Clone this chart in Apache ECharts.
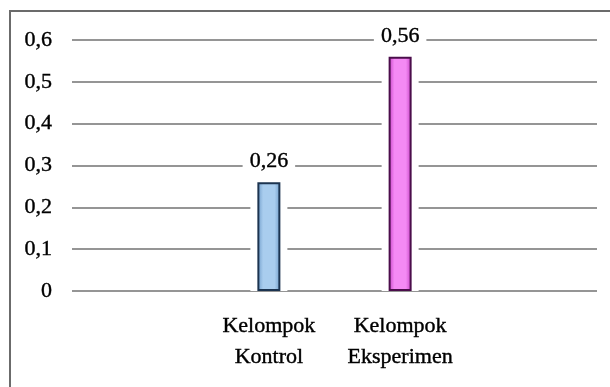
<!DOCTYPE html>
<html>
<head>
<meta charset="utf-8">
<script src="https://cdn.jsdelivr.net/npm/echarts@6/dist/echarts.min.js"></script>
<style>
  html, body { margin: 0; padding: 0; background: #fff; }
  #chart { width: 610px; height: 387px; }
</style>
</head>
<body>
<div id="chart"></div>
<script>
// Categories (outer slots left empty so the two groups sit in the middle)
const categories = ['', 'Kelompok\nKontrol', 'Kelompok\nEksperimen', ''];
const values = [null, 0.26, 0.56, null];
const yTicks = { min: 0, max: 0.6, step: 0.1 };

const serif = 'Liberation Serif';
// slightly heavier strokes for all chart text
const ink = { color: '#000', textBorderColor: '#000', textBorderWidth: 0.4 };

const barStyles = [
  null,
  { fill: ['#6f9cc9', '#a9cdee', '#a9cdee', '#6f9cc9'], border: '#1c3450' },
  { fill: ['#c43fc4', '#f48af4', '#f48af4', '#c43fc4'], border: '#4b0d4b' },
  null
];

function grad(c) {
  return new echarts.graphic.LinearGradient(0, 0, 1, 0, [
    { offset: 0, color: c[0] },
    { offset: 0.25, color: c[1] },
    { offset: 0.75, color: c[2] },
    { offset: 1, color: c[3] }
  ]);
}

const fmt = v => (v === 0 ? '0' : v.toFixed(2).replace(/0$/, '').replace('.', ','));

const chart = echarts.init(document.getElementById('chart'), null, { renderer: 'canvas' });
chart.setOption({
  animation: false,
  backgroundColor: '#fff',
  grid: { left: 72, right: 13, top: 40, bottom: 96 },
  graphic: [{
    type: 'rect',
    shape: { x: 10, y: 11, width: 700, height: 500 },
    style: { fill: 'none', stroke: '#6b6b6b', lineWidth: 2 },
    silent: true
  }],
  xAxis: [{
    type: 'category',
    data: categories,
    axisLine: { show: false },
    axisTick: { show: false },
    axisLabel: Object.assign({
      interval: 0,
      margin: 20,
      fontFamily: serif,
      fontSize: 22,
      lineHeight: 31
    }, ink)
  }, {
    type: 'category',
    data: categories,
    show: false
  }],
  yAxis: {
    type: 'value',
    min: yTicks.min,
    max: yTicks.max,
    interval: yTicks.step,
    axisLine: { show: false },
    axisTick: { show: false },
    axisLabel: Object.assign({
      margin: 20,
      fontFamily: serif,
      fontSize: 22,
      formatter: v => (v === 0 ? '0' : v.toFixed(1).replace('.', ','))
    }, ink),
    splitLine: { lineStyle: { color: '#959595', width: 2 } }
  },
  series: [{
    // white halo that breaks the gridlines around each bar
    type: 'bar',
    xAxisIndex: 1,
    data: values,
    barWidth: 37,
    silent: true,
    z: 2,
    itemStyle: { color: '#fff' }
  }, {
    type: 'bar',
    xAxisIndex: 0,
    data: values.map((v, i) => v == null ? null : {
      value: v,
      itemStyle: {
        color: grad(barStyles[i].fill),
        borderColor: barStyles[i].border,
        borderWidth: 2
      }
    }),
    barWidth: 23,
    z: 3,
    label: Object.assign({
      show: true,
      position: 'top',
      distance: 8,
      fontFamily: serif,
      fontSize: 22,
      backgroundColor: '#fff',
      padding: [2, 7],
      formatter: p => fmt(p.value)
    }, ink)
  }]
});
</script>
</body>
</html>
